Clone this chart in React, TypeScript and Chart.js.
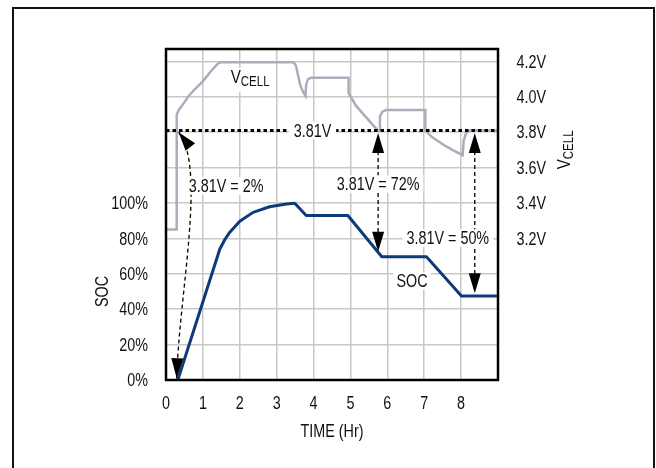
import React, { useEffect, useRef } from 'react';
import { Chart, registerables } from 'chart.js';

Chart.register(...registerables);

const FONT = "'Liberation Sans', Arial, Helvetica, sans-serif";
const NARROW = 0.82;
const TEXT_COLOR = '#111';
const FS = 17.5;

// ---- data ----
const vcellHours = [0, 0.29, 0.29, 0.36, 0.47, 0.6, 0.74, 1.01, 1.2, 1.42, 1.5, 3.44, 3.5, 3.53, 3.58, 3.64, 3.71, 3.78, 3.8, 3.85, 3.93, 4.95, 4.95, 5.15, 5.42, 5.74, 5.78, 5.8, 5.86, 5.96, 7.03, 7.03, 7.22, 7.49, 7.76, 8.04, 8.07, 8.13, 8.22, 9];
const vcellVolts = [3.25, 3.25, 3.9, 3.93, 3.96, 4.0, 4.034, 4.09, 4.14, 4.19, 4.195, 4.195, 4.185, 4.17, 4.12, 4.065, 4.03, 4.005, 4.07, 4.1, 4.107, 4.107, 4.02, 3.95, 3.885, 3.81, 3.81, 3.89, 3.915, 3.925, 3.925, 3.81, 3.771, 3.733, 3.7, 3.67, 3.75, 3.795, 3.81, 3.81];

const socHours = [0.32, 1.46, 1.6, 1.73, 2.0, 2.36, 2.81, 3.26, 3.49, 3.8, 4.93, 5.85, 7.06, 8.01, 9];
const socPercent = [0, 74, 79.5, 83.5, 89.7, 94.7, 97.9, 99.4, 99.8, 92.9, 92.9, 69.6, 69.6, 47.5, 47.5];

const hourTicks = [0, 1, 2, 3, 4, 5, 6, 7, 8, 9];
const hourLabels = ['0', '1', '2', '3', '4', '5', '6', '7', '8', ''];
const socGridTicks = [0, 20, 40, 60, 80, 100, 120, 140, 160, 180];
const socLabelTicks = [0, 20, 40, 60, 80, 100];
const voltTicks = [3.2, 3.4, 3.6, 3.8, 4.0, 4.2];

const thresholdVolts = 3.81;
const thresholdLabel = '3.81V';
const thresholdLabelHour = 3.97;

const noteTexts = ['3.81V = 2%', '3.81V = 72%', '3.81V = 50%'];
const noteHours = [1.63, 5.75, 7.64];
const noteVolts = [3.496, 3.507, 3.202];

const arrowHours = [5.75, 8.37];
const arrowTopVolts = [3.795, 3.795];
const arrowBottomSoc = [72.5, 49];

const curveArrowHours = [0.34, 1.1, 0.36, 0.29];
const curveArrowVolts = [3.8, 3.6, 2.9, 2.41];

const socCurveLabel = { text: 'SOC', hour: 6.67, soc: 55.9 };
const vcellCurveLabel = { hour: 2.28, volts: 4.095 };

const SOC_MAX = 187;
const V_MIN = 2.4;
const V_MAX = 4.27;

function textW(ctx: CanvasRenderingContext2D, text: string, size: number) {
  ctx.save();
  ctx.font = `${size}px ${FONT}`;
  const w = ctx.measureText(text).width * NARROW;
  ctx.restore();
  return w;
}

// draws narrow text; y is the alphabetic baseline
function narrow(ctx: CanvasRenderingContext2D, text: string, x: number, y: number, size: number, align: CanvasTextAlign) {
  ctx.save();
  ctx.translate(x, y);
  ctx.scale(NARROW, 1);
  ctx.font = `${size}px ${FONT}`;
  ctx.textAlign = align;
  ctx.textBaseline = 'alphabetic';
  ctx.fillStyle = TEXT_COLOR;
  ctx.fillText(text, 0, 0);
  ctx.restore();
}

function drawHead(ctx: CanvasRenderingContext2D, tx: number, ty: number, fx: number, fy: number, len: number, w: number) {
  const ang = Math.atan2(ty - fy, tx - fx);
  ctx.save();
  ctx.translate(tx, ty);
  ctx.rotate(ang);
  ctx.beginPath();
  ctx.moveTo(0, 0);
  ctx.lineTo(-len, w / 2);
  ctx.lineTo(-len, -w / 2);
  ctx.closePath();
  ctx.fillStyle = '#000';
  ctx.fill();
  ctx.restore();
}

function whiteLabel(ctx: CanvasRenderingContext2D, text: string, cx: number, cy: number, size: number, padX: number) {
  const w = textW(ctx, text, size);
  ctx.fillStyle = '#fff';
  ctx.fillRect(cx - w / 2 - padX, cy - size * 0.5, w + padX * 2, size * 1.0);
  narrow(ctx, text, cx, cy + size * 0.358, size, 'center');
}

function subscriptV(ctx: CanvasRenderingContext2D, x0: number, base: number) {
  narrow(ctx, 'V', x0, base, 18.5, 'left');
  narrow(ctx, 'CELL', x0 + textW(ctx, 'V', 18.5), base + 3.3, 14, 'left');
}

const overlay = {
  id: 'overlay',
  afterDatasetsDraw(chart: any) {
    const { ctx, chartArea: a, scales } = chart;
    const xs = scales.x, ys = scales.y, yv = scales.yV;
    ctx.save();

    // threshold dotted line
    const yT = yv.getPixelForValue(thresholdVolts);
    ctx.beginPath();
    ctx.setLineDash([3.5, 3]);
    ctx.lineWidth = 3;
    ctx.strokeStyle = '#000';
    ctx.moveTo(a.left, yT);
    ctx.lineTo(a.right, yT);
    ctx.stroke();

    // vertical double arrows
    ctx.lineWidth = 1.3;
    ctx.setLineDash([4, 3]);
    arrowHours.forEach((h, i) => {
      const x = xs.getPixelForValue(h);
      const y1 = yv.getPixelForValue(arrowTopVolts[i]);
      const y2 = ys.getPixelForValue(arrowBottomSoc[i]);
      ctx.beginPath();
      ctx.moveTo(x, y1 + 18);
      ctx.lineTo(x, y2 - 18);
      ctx.stroke();
      drawHead(ctx, x, y1, x, y1 + 10, 20, 12);
      drawHead(ctx, x, y2, x, y2 - 10, 20, 12);
    });

    // curved double arrow
    const p = curveArrowHours.map((h, i) => [xs.getPixelForValue(h), yv.getPixelForValue(curveArrowVolts[i])]);
    ctx.beginPath();
    ctx.moveTo(p[0][0], p[0][1]);
    ctx.bezierCurveTo(p[1][0], p[1][1], p[2][0], p[2][1], p[3][0], p[3][1]);
    ctx.stroke();
    ctx.setLineDash([]);
    drawHead(ctx, p[0][0], p[0][1], p[1][0], p[1][1], 19, 12);
    drawHead(ctx, p[3][0], p[3][1], p[2][0], p[2][1], 20, 12);

    // labels
    whiteLabel(ctx, thresholdLabel, xs.getPixelForValue(thresholdLabelHour), yT, FS, 5);
    noteTexts.forEach((t, i) => {
      whiteLabel(ctx, t, xs.getPixelForValue(noteHours[i]), yv.getPixelForValue(noteVolts[i]), FS, 4);
    });
    whiteLabel(ctx, socCurveLabel.text, xs.getPixelForValue(socCurveLabel.hour), ys.getPixelForValue(socCurveLabel.soc), FS, 3);

    // VCELL inline label
    {
      const cx = xs.getPixelForValue(vcellCurveLabel.hour);
      const cy = yv.getPixelForValue(vcellCurveLabel.volts);
      const total = textW(ctx, 'V', 18.5) + textW(ctx, 'CELL', 14);
      const x0 = cx - total / 2;
      ctx.fillStyle = '#fff';
      ctx.fillRect(x0 - 4, cy - 12, total + 8, 24);
      subscriptV(ctx, x0, cy + 3);
    }

    // plot frame
    ctx.lineWidth = 2.5;
    ctx.strokeStyle = '#000';
    ctx.strokeRect(a.left, a.top, a.right - a.left, a.bottom - a.top);

    // tick labels
    hourTicks.forEach((h, i) => {
      narrow(ctx, hourLabels[i], xs.getPixelForValue(h), 408.5, FS, 'center');
    });
    socLabelTicks.forEach((v) => {
      narrow(ctx, `${v}%`, 148, ys.getPixelForValue(v) + 6.2, FS, 'right');
    });
    voltTicks.forEach((v) => {
      narrow(ctx, `${v.toFixed(1)}V`, 516.5, yv.getPixelForValue(v) + 6.2, FS, 'left');
    });

    // axis titles
    narrow(ctx, 'TIME (Hr)', (a.left + a.right) / 2, 436.5, FS, 'center');

    ctx.save();
    const socMid = (ys.getPixelForValue(0) + ys.getPixelForValue(100)) / 2;
    ctx.translate(108, socMid);
    ctx.rotate(-Math.PI / 2);
    narrow(ctx, 'SOC', 0, 0, FS, 'center');
    ctx.restore();

    ctx.save();
    const vMid = (yv.getPixelForValue(3.2) + yv.getPixelForValue(4.2)) / 2;
    ctx.translate(566, vMid);
    ctx.rotate(-Math.PI / 2);
    const tw = textW(ctx, 'V', 18.5) + textW(ctx, 'CELL', 14);
    subscriptV(ctx, -tw / 2, 4);
    ctx.restore();

    // outer frame
    ctx.lineWidth = 2;
    ctx.strokeStyle = '#111';
    ctx.beginPath();
    ctx.moveTo(13, 470);
    ctx.lineTo(13, 8);
    ctx.lineTo(654, 8);
    ctx.lineTo(654, 470);
    ctx.stroke();

    ctx.restore();
  },
};

export default function App() {
  const ref = useRef<HTMLCanvasElement | null>(null);
  useEffect(() => {
    if (!ref.current) return;
    const chart = new Chart(ref.current, {
      type: 'line',
      data: {
        datasets: [
          {
            label: 'VCELL',
            data: vcellHours.map((h, i) => ({ x: h, y: vcellVolts[i] })),
            yAxisID: 'yV',
            borderColor: '#a9aebb',
            borderWidth: 2.5,
            pointRadius: 0,
            tension: 0,
            fill: false,
          },
          {
            label: 'SOC',
            data: socHours.map((h, i) => ({ x: h, y: socPercent[i] })),
            yAxisID: 'y',
            borderColor: '#0d3b7a',
            borderWidth: 3,
            pointRadius: 0,
            tension: 0,
            fill: false,
            borderJoinStyle: 'round',
          },
        ],
      },
      options: {
        animation: false,
        responsive: false,
        layout: { padding: { top: 49, left: 0, right: 0, bottom: 0 } },
        plugins: { legend: { display: false }, tooltip: { enabled: false } },
        scales: {
          x: {
            type: 'linear',
            min: 0,
            max: 9,
            afterBuildTicks: (s: any) => { s.ticks = hourTicks.map((v) => ({ value: v })); },
            afterFit: (s: any) => { s.height = 88; },
            grid: { color: '#c8c8c8', lineWidth: 1.5, drawTicks: false },
            border: { display: false },
            ticks: { display: false },
          },
          y: {
            type: 'linear',
            position: 'left',
            min: 0,
            max: SOC_MAX,
            afterBuildTicks: (s: any) => { s.ticks = socGridTicks.map((v) => ({ value: v })); },
            afterFit: (s: any) => { s.width = 166; },
            grid: { color: '#c8c8c8', lineWidth: 1.5, drawTicks: false },
            border: { display: false },
            ticks: { display: false },
          },
          yV: {
            type: 'linear',
            position: 'right',
            min: V_MIN,
            max: V_MAX,
            afterBuildTicks: (s: any) => { s.ticks = voltTicks.map((v) => ({ value: v })); },
            afterFit: (s: any) => { s.width = 158; },
            grid: { display: false, drawTicks: false },
            border: { display: false },
            ticks: { display: false },
          },
        },
      },
      plugins: [overlay],
    });
    return () => chart.destroy();
  }, []);
  return (
    <div style={{ position: 'absolute', left: 0, top: 0, width: 656, height: 468, background: '#fff' }}>
      <canvas ref={ref} width={656} height={468} style={{ width: 656, height: 468, display: 'block' }} />
    </div>
  );
}
